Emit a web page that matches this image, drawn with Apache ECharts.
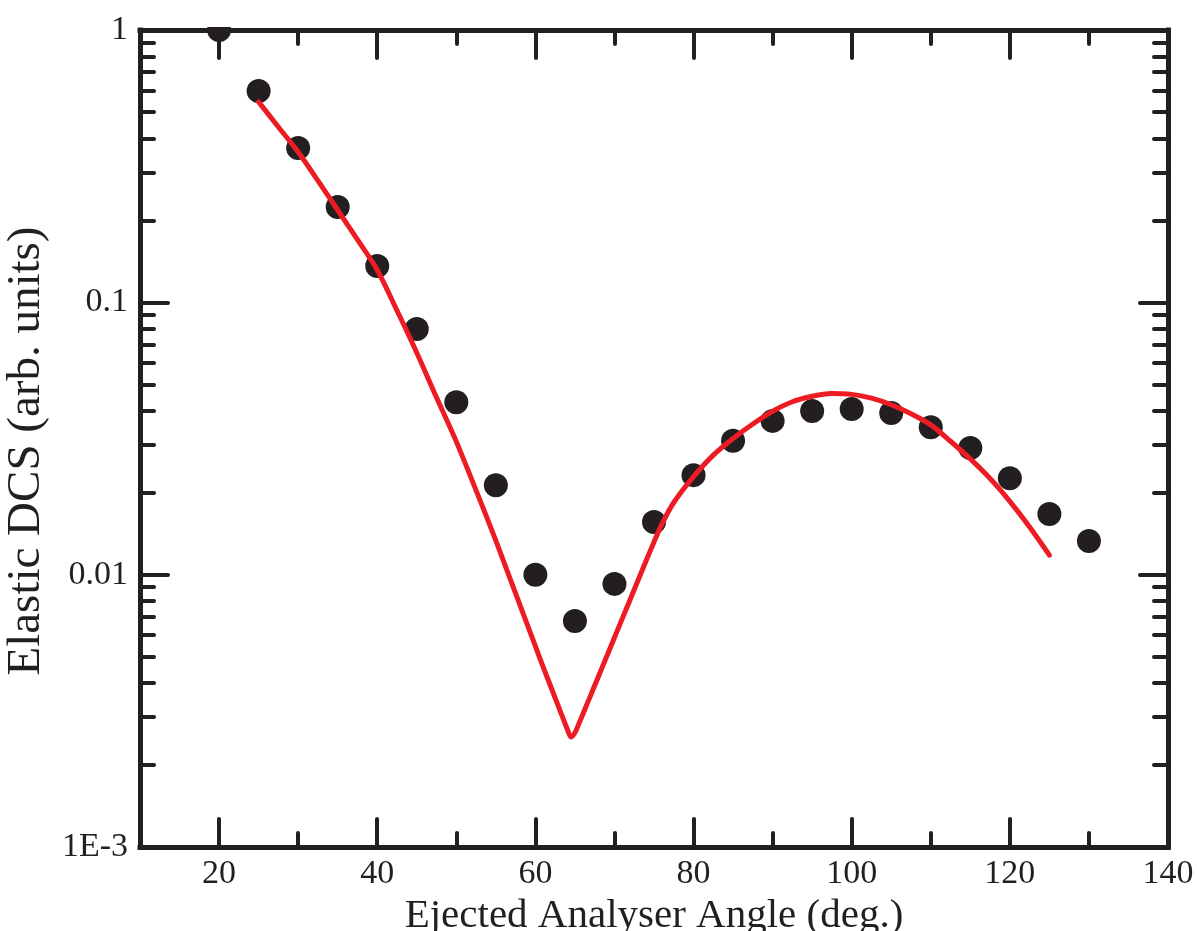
<!DOCTYPE html>
<html>
<head>
<meta charset="utf-8">
<script src="https://cdn.jsdelivr.net/npm/echarts@6/dist/echarts.min.js"></script>
<style>
  html, body { margin: 0; padding: 0; background: #ffffff; }
  #chart { width: 1197px; height: 931px; }
</style>
</head>
<body>
<div id="chart"></div>
<script>
// Measured elastic DCS (points)
const measAngle = [20, 25, 30, 35, 40, 45, 50, 55, 60, 65, 70, 75, 80, 85, 90, 95, 100, 105, 110, 115, 120, 125, 130];
const measDcs = [1.0, 0.597, 0.369, 0.224, 0.136, 0.0798, 0.0430, 0.0213, 0.0100, 0.00676, 0.00925, 0.0156, 0.0232,
                 0.0310, 0.0367, 0.0399, 0.0406, 0.0392, 0.0348, 0.0292, 0.0226, 0.0167, 0.0133];

// Calculated elastic DCS (curve)
const calcAngle = [25, 27.5, 30, 32.5, 35, 37.5, 40, 42.5, 45, 47.5, 50, 52.5, 55, 57.5, 60, 61,
                   62, 62.5, 63, 63.5, 64, 64.5, 65, 65.5, 66, 66.5, 67, 68, 69, 70, 72, 74, 75, 76, 77.5,
                   80, 82.5, 85, 87.5, 90, 92.5, 95, 97.5, 100,
                   102.5, 105, 107.5, 110, 112.5, 115, 117.5, 120, 122.5, 125];
const calcDcs = [0.5445, 0.4406, 0.3565, 0.2799, 0.2183, 0.1698, 0.1315, 0.0933, 0.0653, 0.0447, 0.0308, 0.0204,
                 0.01334, 0.00853, 0.00546, 0.00457,
                 0.003844, 0.003525, 0.003233, 0.002966, 0.002725, 0.002534, 0.002627, 0.002838, 0.003074,
                 0.003332, 0.003612, 0.004247, 0.004994, 0.005875, 0.008128, 0.011246, 0.013183, 0.015346, 0.018408,
                 0.02291, 0.02748, 0.03162, 0.03573, 0.03981, 0.04315, 0.04519, 0.04624, 0.04592,
                 0.04446, 0.04207, 0.03899, 0.03548, 0.03090, 0.02661, 0.02254, 0.01858, 0.01496, 0.01180];

// Tick values
const xMajorTicks = [20, 40, 60, 80, 100, 120, 140];
const xMinorTicks = [30, 50, 70, 90, 110, 130];
const yMajorTicks = [0.001, 0.01, 0.1, 1];
const yMinorTicks = [0.002, 0.003, 0.004, 0.005, 0.006, 0.007, 0.008, 0.009,
                     0.02, 0.03, 0.04, 0.05, 0.06, 0.07, 0.08, 0.09,
                     0.2, 0.3, 0.4, 0.5, 0.6, 0.7, 0.8, 0.9];
const yTickLabels = ['1E-3', '0.01', '0.1', '1'];

const ink = '#231f20';
const red = '#ed1c24';
const serif = '"Liberation Serif", "Times New Roman", serif';

function xAxisDef(position, ticks, len, withLine, withLabels, name) {
  return {
    type: 'value', position: position, min: 10, max: 140, interval: 10,
    name: name || '', nameLocation: 'middle', nameGap: 44,
    nameTextStyle: { fontFamily: serif, fontSize: 41, color: ink },
    axisLine: { show: withLine, onZero: false, lineStyle: { color: ink, width: 5, cap: 'square' } },
    axisTick: { show: true, inside: true, length: len, customValues: ticks, lineStyle: { color: ink, width: 4, cap: 'round' } },
    axisLabel: withLabels ? { show: true, customValues: xMajorTicks, margin: 10, fontFamily: serif, fontSize: 34, color: ink } : { show: false },
    splitLine: { show: false }
  };
}

function yAxisDef(position, ticks, len, withLine, withLabels) {
  return {
    type: 'log', logBase: 10, position: position, min: 0.001, max: 1,
    axisLine: { show: withLine, onZero: false, lineStyle: { color: ink, width: 5, cap: 'square' } },
    axisTick: { show: true, inside: true, length: len, customValues: ticks, lineStyle: { color: ink, width: 4, cap: 'round' } },
    axisLabel: withLabels ? {
      show: true, customValues: yMajorTicks, margin: 12, fontFamily: serif, fontSize: 34, color: ink,
      formatter: function (v) {
        const i = yMajorTicks.findIndex(t => Math.abs(Math.log10(t) - Math.log10(v)) < 1e-6);
        return i >= 0 ? yTickLabels[i] : '';
      }
    } : { show: false },
    splitLine: { show: false }
  };
}

const chart = echarts.init(document.getElementById('chart'), null, { renderer: 'canvas' });

chart.setOption({
  backgroundColor: '#ffffff',
  animation: false,
  grid: { left: 140, right: 29, top: 30, bottom: 84, containLabel: false, outerBoundsMode: 'none' },
  xAxis: [
    xAxisDef('bottom', xMajorTicks, 28, true, true, 'Ejected Analyser Angle (deg.)'),
    xAxisDef('bottom', xMinorTicks, 14, false, false),
    xAxisDef('top', xMajorTicks, 28, true, false),
    xAxisDef('top', xMinorTicks, 14, false, false)
  ],
  yAxis: [
    yAxisDef('left', yMajorTicks, 28, true, true),
    yAxisDef('left', yMinorTicks, 14, false, false),
    yAxisDef('right', yMajorTicks, 28, true, false),
    yAxisDef('right', yMinorTicks, 14, false, false)
  ],
  graphic: [
    // white band above the frame, hides the part of markers that lies outside it
    { type: 'rect', left: 143, top: 0, z: 10, shape: { width: 1022, height: 27 }, style: { fill: '#ffffff' }, silent: true },
    // y axis title
    {
      type: 'text', x: 27, y: 451, rotation: Math.PI / 2, z: 10,
      style: { text: 'Elastic DCS (arb. units)', fontFamily: serif, fontSize: 47, fill: ink,
               align: 'center', verticalAlign: 'middle' }
    }
  ],
  series: [
    {
      type: 'scatter', xAxisIndex: 0, yAxisIndex: 0, z: 2,
      symbol: 'circle', symbolSize: 24,
      itemStyle: { color: ink, opacity: 1 },
      data: measAngle.map((a, i) => [a, measDcs[i]])
    },
    {
      type: 'line', xAxisIndex: 0, yAxisIndex: 0, z: 3,
      showSymbol: false, symbol: 'none', smooth: 0.3,
      lineStyle: { color: red, width: 5, cap: 'round', join: 'round' },
      data: calcAngle.map((a, i) => [a, calcDcs[i]])
    }
  ]
});
</script>
</body>
</html>
